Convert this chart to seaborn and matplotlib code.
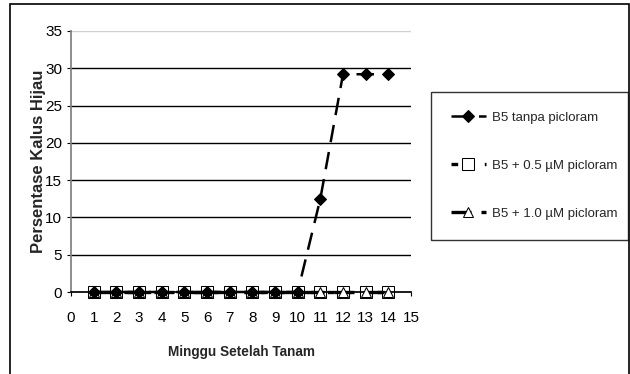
import matplotlib
matplotlib.use("Agg")
import matplotlib.pyplot as plt
import seaborn as sns
import pandas as pd
from matplotlib.patches import Rectangle

weeks = [1, 2, 3, 4, 5, 6, 7, 8, 9, 10, 11, 12, 13, 14]
b5_tanpa = [0, 0, 0, 0, 0, 0, 0, 0, 0, 0, 12.5, 29.2, 29.2, 29.2]
b5_05 = [0, 0, 0, 0, 0, 0, 0, 0, 0, 0, 0, 0, 0, 0]
b5_10 = [0, 0, 0, 0, 0, 0, 0, 0, 0, 0, 0, 0, 0, 0]
series_names = ["B5 tanpa picloram", "B5 + 0.5 µM picloram", "B5 + 1.0 µM picloram"]
x_ticks = list(range(0, 16))
y_ticks = [0, 5, 10, 15, 20, 25, 30, 35]

sns.set_theme(style="white")
plt.rcParams["font.family"] = ["Liberation Sans", "DejaVu Sans"]

fig = plt.figure(figsize=(6.3, 3.74), dpi=100)
ax = fig.add_axes([71 / 630, 1 - 292 / 374, 340 / 630, 261 / 374])

df = pd.DataFrame({"week": weeks, "a": b5_tanpa, "b": b5_05, "c": b5_10})

# horizontal grid lines
for yv in y_ticks[1:]:
    ax.axhline(yv, color="#d0d0d0" if yv == 35 else "black", lw=1.0, zorder=0)

sns.lineplot(data=df, x="week", y="c", ax=ax, color="black", lw=2.4,
             linestyle=(0, (6, 3)), marker="^", markersize=7,
             markerfacecolor="white", markeredgecolor="black",
             label=series_names[2], zorder=3, clip_on=False)
sns.lineplot(data=df, x="week", y="b", ax=ax, color="black", lw=2.4,
             linestyle=(0, (2, 3)), marker="s", markersize=8.5,
             markerfacecolor="white", markeredgecolor="black",
             label=series_names[1], zorder=2, clip_on=False)
sns.lineplot(data=df, x="week", y="a", ax=ax, color="black", lw=1.8,
             linestyle=(0, (7, 4)), marker="D", markersize=6,
             markerfacecolor="black", markeredgecolor="black",
             label=series_names[0], zorder=4, clip_on=False)

ax.set_xlim(0, 15)
ax.set_ylim(0, 35)
ax.set_xticks(x_ticks)
ax.set_yticks(y_ticks)
ax.tick_params(axis="both", labelsize=11, length=3, width=0.8,
               colors="black", direction="out", bottom=True, left=True)
for s in ["top", "right"]:
    ax.spines[s].set_visible(False)
ax.spines["left"].set_color("#808080")
ax.spines["bottom"].set_color("black")
ax.tick_params(axis="x", pad=11)
ax.tick_params(axis="y", pad=3.5)

ax.set_xlabel("Minggu Setelah Tanam", fontsize=9.8, fontweight="bold", labelpad=14)
ax.set_ylabel("Persentase Kalus Hijau", fontsize=12, fontweight="bold", labelpad=-1)

handles, labels = ax.get_legend_handles_labels()
order = [2, 1, 0]
leg = fig.legend([handles[i] for i in order], [labels[i] for i in order],
                 loc="upper left",
                 bbox_to_anchor=(431 / 630, 1 - 238 / 374, 197 / 630, 146 / 374),
                 mode="expand", borderaxespad=0, fontsize=9.5, frameon=True,
                 fancybox=False, edgecolor="black", labelspacing=2.7,
                 handlelength=2.65, borderpad=1.5, handletextpad=0.45)
leg.get_frame().set_linewidth(1.0)
if ax.get_legend():
    ax.get_legend().remove()

# outer chart frame
fig.patches.append(Rectangle((10 / 630, -0.01), 619 / 630, 1 - 4 / 374 + 0.01,
                             transform=fig.transFigure, fill=False,
                             edgecolor="black", lw=1.2))

fig.savefig("out.png", dpi=100)
